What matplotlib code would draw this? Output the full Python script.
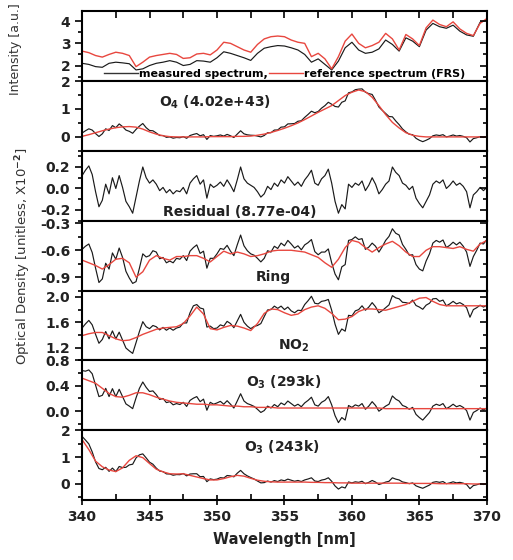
import numpy as np
import matplotlib
matplotlib.use("Agg")
import matplotlib.pyplot as plt
from matplotlib.ticker import MultipleLocator, FormatStrFormatter
from matplotlib.lines import Line2D

plt.rcParams['font.family'] = ['DejaVu Sans']
plt.rcParams['font.weight'] = 'bold'
plt.rcParams['axes.unicode_minus'] = False

# wavelength grids (nm)
wl_fine = np.arange(340, 370.001, 0.25)
wl_coarse = np.arange(340, 370.001, 0.5)

# ---- Intensity panel (coarse grid) ----
int_ref = [2.65, 2.58, 2.45, 2.38, 2.50, 2.60, 2.55, 2.45, 1.95, 2.15,
           2.38, 2.45, 2.50, 2.55, 2.50, 2.32, 2.35, 2.52, 2.55, 2.48,
           2.70, 3.05, 3.00, 2.85, 2.70, 2.60, 2.95, 3.20, 3.30, 3.33,
           3.30, 3.15, 3.05, 3.00, 2.40, 2.55, 2.30, 1.85, 2.40, 3.10,
           3.42, 3.00, 2.80, 2.90, 3.05, 3.45, 3.20, 2.70, 3.40, 3.20,
           2.90, 3.70, 4.05, 3.85, 3.75, 3.97, 3.65, 3.45, 3.35, 3.90,
           4.12]
int_meas = [2.10, 2.05, 1.95, 1.92, 2.10, 2.15, 2.12, 2.08, 1.80, 1.85,
            2.00, 2.10, 2.15, 2.22, 2.15, 2.00, 2.05, 2.22, 2.20, 2.15,
            2.35, 2.62, 2.55, 2.45, 2.35, 2.23, 2.55, 2.78, 2.85, 2.90,
            2.88, 2.80, 2.70, 2.50, 2.15, 2.30, 2.05, 1.80, 2.20, 2.80,
            3.05, 2.70, 2.55, 2.60, 2.75, 3.15, 2.95, 2.65, 3.25, 3.10,
            2.85, 3.60, 3.90, 3.75, 3.68, 3.82, 3.55, 3.38, 3.32, 3.95,
            4.05]

# ---- O4 ----
o4_fit = [0.02, 0.08, 0.15, 0.22, 0.28, 0.33, 0.36, 0.37, 0.35, 0.28,
          0.18, 0.10, 0.04, 0.01, 0.00, 0.00, 0.00, 0.00, 0.00, 0.01,
          0.01, 0.01, 0.01, 0.02, 0.02, 0.03, 0.06, 0.10, 0.16, 0.23,
          0.31, 0.40, 0.50, 0.62, 0.75, 0.88, 1.00, 1.12, 1.30, 1.48,
          1.60, 1.68, 1.62, 1.42, 1.12, 0.80, 0.52, 0.32, 0.15, 0.06,
          0.02, 0.00, 0.00, 0.00, 0.00, 0.00, 0.00, 0.00, 0.00, 0.00,
          0.00]
o4_meas = [0.14, 0.22, 0.29, 0.245, 0.12, 0.015, 0.11, 0.29, 0.23, 0.405,
           0.33, 0.465, 0.37, 0.245, 0.20, 0.13, 0.27, 0.385, 0.48, 0.33,
           0.23, 0.22, 0.14, 0.05, 0.05, -0.015, 0.00, -0.045, -0.02, -0.03,
           0.01, -0.05, 0.05, 0.09, 0.12, 0.04, 0.08, -0.09, 0.05, 0.02,
           0.04, 0.07, 0.03, 0.09, 0.04, -0.02, 0.10, 0.22, 0.11, 0.075,
           0.06, 0.055, 0.03, 0.00, 0.05, 0.15, 0.15, 0.245, 0.25, 0.35,
           0.36, 0.465, 0.47, 0.48, 0.56, 0.58, 0.70, 0.805, 0.92, 0.865,
           0.91, 1.03, 1.12, 1.24, 1.17, 1.09, 1.07, 1.24, 1.29, 1.58,
           1.61, 1.69, 1.71, 1.72, 1.60, 1.55, 1.52, 1.31, 1.07, 0.95,
           0.84, 0.73, 0.72, 0.57, 0.44, 0.285, 0.18, 0.095, 0.08, -0.05,
           -0.12, -0.17, -0.12, -0.06, 0.04, 0.07, 0.05, 0.08, 0.00, 0.03,
           0.07, 0.03, 0.05, 0.02, -0.03, -0.18, -0.06, -0.03, 0.01, -0.02,
           0.01]

# ---- Residual ----
residual = [0.12, 0.17, 0.21, 0.13, -0.03, -0.17, -0.11, 0.04, -0.05, 0.10,
            0.00, 0.12, 0.01, -0.12, -0.17, -0.23, -0.08, 0.07, 0.20, 0.10,
            0.05, 0.08, 0.04, -0.02, 0.01, -0.04, -0.01, -0.05, -0.02, -0.03,
            0.01, -0.05, 0.05, 0.09, 0.12, 0.04, 0.08, -0.09, 0.04, 0.01,
            0.03, 0.06, 0.02, 0.08, 0.03, -0.03, 0.08, 0.20, 0.09, 0.05,
            0.03, 0.01, -0.03, -0.08, -0.05, 0.02, -0.01, 0.05, 0.02, 0.08,
            0.05, 0.11, 0.07, 0.03, 0.06, 0.02, 0.08, 0.12, 0.17, 0.05,
            0.03, 0.09, 0.12, 0.18, 0.05, -0.12, -0.23, -0.15, -0.19, 0.04,
            0.01, 0.05, 0.03, 0.07, -0.02, 0.03, 0.10, 0.04, -0.05, -0.01,
            0.04, 0.07, 0.20, 0.15, 0.12, 0.05, 0.03, -0.01, 0.02, -0.09,
            -0.14, -0.18, -0.12, -0.06, 0.04, 0.07, 0.05, 0.08, 0.00, 0.03,
            0.07, 0.03, 0.05, 0.02, -0.03, -0.18, -0.06, -0.03, 0.01, -0.02,
            0.01]

# ---- Ring ----
ring_fit = [-0.71, -0.74, -0.77, -0.81, -0.76, -0.70, -0.69, -0.74, -0.90, -0.84,
            -0.71, -0.66, -0.69, -0.71, -0.67, -0.67, -0.66, -0.66, -0.69, -0.73,
            -0.67, -0.61, -0.64, -0.62, -0.64, -0.67, -0.66, -0.64, -0.61, -0.60,
            -0.60, -0.60, -0.61, -0.62, -0.65, -0.68, -0.74, -0.79, -0.70, -0.57,
            -0.49, -0.51, -0.57, -0.62, -0.57, -0.53, -0.50, -0.55, -0.62, -0.67,
            -0.67, -0.60, -0.56, -0.56, -0.57, -0.58, -0.56, -0.59, -0.61, -0.53,
            -0.49]
ring_meas = [-0.59, -0.555, -0.53, -0.625, -0.80, -0.96, -0.92, -0.745, -0.81, -0.63,
             -0.70, -0.575, -0.68, -0.835, -0.91, -0.97, -0.95, -0.80, -0.64, -0.675,
             -0.66, -0.605, -0.62, -0.695, -0.68, -0.74, -0.72, -0.74, -0.69, -0.70,
             -0.66, -0.715, -0.61, -0.57, -0.54, -0.635, -0.61, -0.80, -0.69, -0.69,
             -0.64, -0.58, -0.59, -0.545, -0.61, -0.66, -0.54, -0.43, -0.55, -0.605,
             -0.64, -0.655, -0.69, -0.73, -0.69, -0.605, -0.62, -0.555, -0.58, -0.52,
             -0.55, -0.49, -0.53, -0.575, -0.55, -0.595, -0.54, -0.515, -0.48, -0.615,
             -0.65, -0.62, -0.62, -0.585, -0.74, -0.865, -0.93, -0.785, -0.76, -0.49,
             -0.48, -0.45, -0.48, -0.47, -0.59, -0.565, -0.52, -0.555, -0.62, -0.56,
             -0.49, -0.445, -0.36, -0.41, -0.43, -0.535, -0.59, -0.655, -0.65, -0.76,
             -0.81, -0.83, -0.72, -0.64, -0.52, -0.49, -0.51, -0.485, -0.57, -0.545,
             -0.51, -0.54, -0.51, -0.555, -0.62, -0.78, -0.67, -0.60, -0.52, -0.53,
             -0.48]

# ---- NO2 ----
no2_fit = [1.39, 1.42, 1.44, 1.44, 1.39, 1.34, 1.31, 1.32, 1.36, 1.41,
           1.45, 1.49, 1.51, 1.52, 1.53, 1.58, 1.70, 1.84, 1.73, 1.50,
           1.48, 1.52, 1.55, 1.54, 1.51, 1.47, 1.58, 1.74, 1.81, 1.80,
           1.75, 1.71, 1.73, 1.80, 1.84, 1.86, 1.82, 1.74, 1.64, 1.65,
           1.69, 1.77, 1.81, 1.81, 1.80, 1.79, 1.82, 1.85, 1.88, 1.93,
           1.98, 1.99, 1.93, 1.88, 1.86, 1.86, 1.86, 1.86, 1.86, 1.86,
           1.86]
no2_meas = [1.51, 1.575, 1.63, 1.56, 1.41, 1.27, 1.33, 1.455, 1.34, 1.465,
            1.34, 1.445, 1.32, 1.195, 1.15, 1.11, 1.28, 1.455, 1.61, 1.53,
            1.50, 1.55, 1.53, 1.48, 1.52, 1.475, 1.51, 1.475, 1.51, 1.525,
            1.59, 1.59, 1.75, 1.86, 1.88, 1.825, 1.81, 1.525, 1.54, 1.50,
            1.51, 1.56, 1.54, 1.615, 1.58, 1.515, 1.62, 1.725, 1.60, 1.54,
            1.50, 1.535, 1.55, 1.58, 1.69, 1.795, 1.80, 1.855, 1.82, 1.855,
            1.80, 1.84, 1.78, 1.75, 1.79, 1.785, 1.88, 1.94, 2.01, 1.90,
            1.89, 1.93, 1.94, 1.96, 1.79, 1.57, 1.41, 1.495, 1.46, 1.71,
            1.70, 1.78, 1.80, 1.86, 1.79, 1.84, 1.91, 1.845, 1.75, 1.785,
            1.83, 1.875, 2.02, 1.985, 1.97, 1.915, 1.91, 1.895, 1.95, 1.865,
            1.84, 1.805, 1.87, 1.90, 1.97, 1.975, 1.93, 1.95, 1.86, 1.89,
            1.93, 1.89, 1.91, 1.88, 1.83, 1.68, 1.80, 1.83, 1.87, 1.84,
            1.87]

# ---- O3 (293k) ----
o3w_fit = [0.52, 0.48, 0.44, 0.36, 0.28, 0.23, 0.22, 0.25, 0.29, 0.29,
           0.26, 0.22, 0.19, 0.16, 0.14, 0.13, 0.12, 0.11, 0.11, 0.10,
           0.10, 0.09, 0.08, 0.08, 0.07, 0.07, 0.06, 0.06, 0.06, 0.05,
           0.05, 0.05, 0.05, 0.05, 0.05, 0.05, 0.05, 0.05, 0.05, 0.05,
           0.05, 0.05, 0.05, 0.05, 0.05, 0.04, 0.04, 0.04, 0.04, 0.04,
           0.04, 0.04, 0.04, 0.04, 0.04, 0.04, 0.04, 0.04, 0.04, 0.04,
           0.04]
o3w_meas = [0.64, 0.63, 0.65, 0.59, 0.41, 0.23, 0.25, 0.36, 0.23, 0.355,
            0.23, 0.345, 0.23, 0.115, 0.08, 0.04, 0.21, 0.36, 0.46, 0.375,
            0.31, 0.32, 0.26, 0.185, 0.20, 0.135, 0.15, 0.10, 0.12, 0.105,
            0.14, 0.075, 0.17, 0.205, 0.23, 0.15, 0.19, 0.015, 0.14, 0.11,
            0.13, 0.155, 0.11, 0.165, 0.11, 0.05, 0.16, 0.275, 0.16, 0.12,
            0.10, 0.075, 0.03, -0.02, 0.01, 0.08, 0.05, 0.105, 0.07, 0.13,
            0.10, 0.16, 0.12, 0.08, 0.11, 0.07, 0.13, 0.17, 0.22, 0.10,
            0.08, 0.14, 0.17, 0.23, 0.10, -0.07, -0.18, -0.10, -0.14, 0.09,
            0.06, 0.10, 0.08, 0.12, 0.03, 0.08, 0.15, 0.09, 0.00, 0.04,
            0.08, 0.11, 0.24, 0.19, 0.16, 0.09, 0.07, 0.03, 0.06, -0.05,
            -0.10, -0.14, -0.08, -0.02, 0.08, 0.11, 0.09, 0.12, 0.04, 0.07,
            0.11, 0.07, 0.09, 0.06, 0.01, -0.14, -0.02, 0.01, 0.05, 0.02,
            0.05]

# ---- O3 (243k) ----
o3c_fit = [1.65, 1.28, 0.85, 0.64, 0.52, 0.46, 0.60, 0.88, 1.05, 0.98,
           0.76, 0.55, 0.45, 0.38, 0.37, 0.38, 0.32, 0.26, 0.20, 0.15,
           0.15, 0.20, 0.27, 0.32, 0.29, 0.21, 0.14, 0.10, 0.08, 0.07,
           0.07, 0.07, 0.07, 0.07, 0.06, 0.06, 0.05, 0.05, 0.04, 0.04,
           0.03, 0.03, 0.03, 0.03, 0.03, 0.03, 0.03, 0.03, 0.02, 0.02,
           0.02, 0.02, 0.02, 0.01, 0.01, 0.01, 0.01, 0.01, 0.00, 0.00,
           0.00]
o3c_meas = [1.77, 1.635, 1.49, 1.195, 0.82, 0.575, 0.53, 0.62, 0.47, 0.59,
            0.46, 0.65, 0.61, 0.62, 0.71, 0.735, 0.97, 1.085, 1.12, 0.97,
            0.81, 0.735, 0.59, 0.48, 0.46, 0.375, 0.37, 0.325, 0.35, 0.345,
            0.39, 0.30, 0.37, 0.38, 0.38, 0.27, 0.28, 0.085, 0.19, 0.16,
            0.18, 0.235, 0.22, 0.315, 0.30, 0.265, 0.40, 0.505, 0.38, 0.30,
            0.24, 0.185, 0.11, 0.04, 0.05, 0.11, 0.07, 0.125, 0.09, 0.15,
            0.12, 0.18, 0.14, 0.10, 0.13, 0.09, 0.15, 0.185, 0.23, 0.11,
            0.09, 0.145, 0.17, 0.23, 0.10, -0.075, -0.19, -0.11, -0.15, 0.075,
            0.04, 0.08, 0.06, 0.10, 0.01, 0.06, 0.13, 0.07, -0.02, 0.02,
            0.07, 0.10, 0.23, 0.18, 0.15, 0.075, 0.05, 0.01, 0.04, -0.07,
            -0.12, -0.16, -0.10, -0.04, 0.06, 0.085, 0.06, 0.09, 0.01, 0.04,
            0.08, 0.04, 0.06, 0.03, -0.02, -0.175, -0.06, -0.03, 0.01, -0.02,
            0.01]

labels = ["", "O$_4$ (4.02e+43)", "Residual (8.77e-04)", "Ring", "NO$_2$",
          "O$_3$ (293k)", "O$_3$ (243k)"]
xticks = [340, 345, 350, 355, 360, 365, 370]

RED = '#e8473f'
BLK = '#1a1a1a'

fig, axes = plt.subplots(7, 1, figsize=(5.13, 5.6), dpi=100, sharex=True)
fig.subplots_adjust(left=0.16, right=0.949, top=0.980, bottom=0.107, hspace=0)

panels = [
    (wl_coarse, int_meas, wl_coarse, int_ref, (1.3, 4.45), 1, 0.5, '%d'),
    (wl_fine, o4_meas, wl_coarse, o4_fit, (-0.5, 2.0), 1, 0.5, '%d'),
    (wl_fine, residual, None, None, (-0.3, 0.35), 0.2, 0.1, '%.1f'),
    (wl_fine, ring_meas, wl_coarse, ring_fit, (-1.05, -0.27), 0.3, 0.15, '%.1f'),
    (wl_fine, no2_meas, wl_coarse, no2_fit, (1.0, 2.1), 0.4, 0.2, '%.1f'),
    (wl_fine, o3w_meas, wl_coarse, o3w_fit, (-0.3, 0.8), 0.4, 0.2, '%.1f'),
    (wl_fine, o3c_meas, wl_coarse, o3c_fit, (-0.6, 2.0), 1, 0.5, '%d'),
]

for i, (ax, p) in enumerate(zip(axes, panels)):
    xm, ym, xf, yf, yl, maj, mnr, fmt = p
    ax.plot(xm, ym, color=BLK, lw=0.85)
    if xf is not None:
        ax.plot(xf, yf, color=RED, lw=1.0)
    ax.set_ylim(*yl)
    ax.set_xlim(340, 370)
    ax.yaxis.set_major_locator(MultipleLocator(maj))
    ax.yaxis.set_minor_locator(MultipleLocator(mnr))
    ax.yaxis.set_major_formatter(FormatStrFormatter(fmt))
    for s in ax.spines.values():
        s.set_linewidth(1.5)
    ax.tick_params(axis='y', which='both', left=True, right=False,
                   labelsize=10, width=1.2, labelcolor='#222222')
    ax.tick_params(axis='y', which='major', length=5, direction='out')
    ax.tick_params(axis='y', which='minor', length=3, direction='out')
    ax.tick_params(axis='x', which='both', bottom=False, top=False)

    # right side inward ticks
    axr = ax.twinx()
    axr.set_ylim(*yl)
    axr.yaxis.set_major_locator(MultipleLocator(maj))
    axr.yaxis.set_minor_locator(MultipleLocator(mnr))
    axr.tick_params(axis='y', which='both', direction='in', labelright=False,
                    width=1.2)
    axr.tick_params(axis='y', which='major', length=5)
    axr.tick_params(axis='y', which='minor', length=3)
    for s in axr.spines.values():
        s.set_visible(False)

# top panel: top ticks
axes[0].tick_params(axis='x', which='both', top=True, direction='in', length=5, width=1.2)
axes[0].xaxis.set_minor_locator(MultipleLocator(2.5))

# bottom panel x ticks
axb = axes[-1]
axb.set_xticks(xticks)
axb.xaxis.set_minor_locator(MultipleLocator(2.5))
axb.tick_params(axis='x', which='major', bottom=True, direction='inout', length=7,
                width=1.2, labelsize=10, labelcolor='#222222')
axb.tick_params(axis='x', which='minor', bottom=True, direction='in', length=4, width=1.2)
axb.set_xticklabels([str(v) for v in xticks], fontweight='bold', fontsize=10)

# panel annotations
ann_pos = {1: (0.19, 0.69), 2: (0.20, 0.13), 3: (0.43, 0.19), 4: (0.485, 0.21),
           5: (0.405, 0.69), 6: (0.40, 0.76)}
for i, (x, y) in ann_pos.items():
    axes[i].text(x, y, labels[i], transform=axes[i].transAxes, fontsize=10,
                 fontweight='bold', ha='left', va='center', color='#222222')

# legend in intensity panel
h1 = Line2D([], [], color='#333333', lw=1.0)
h2 = Line2D([], [], color=RED, lw=1.0)
axes[0].legend([h1, h2], ['measured spectrum,', 'reference spectrum (FRS)'],
               ncol=2, loc='lower left', bbox_to_anchor=(0.055, 0.03),
               frameon=False, handlelength=3.0, handletextpad=0.15,
               columnspacing=0.1, borderpad=0, borderaxespad=0,
               prop={'weight': 'bold', 'size': 8})

fig.text(0.031, 0.912, 'Intensity [a.u.]', rotation=90, ha='center', va='center',
         fontsize=9, fontweight='normal', color='#333333')
fig.text(0.045, 0.543, r'Optical Density [unitless, X10$^{\mathsf{-2}}$]', rotation=90,
         ha='center', va='center', fontsize=9.5, fontweight='normal', color='#333333')
fig.text(0.555, 0.036, 'Wavelength [nm]', ha='center', va='center',
         fontsize=10.5, fontweight='bold', color='#222222')

fig.savefig('out.png', dpi=100)
